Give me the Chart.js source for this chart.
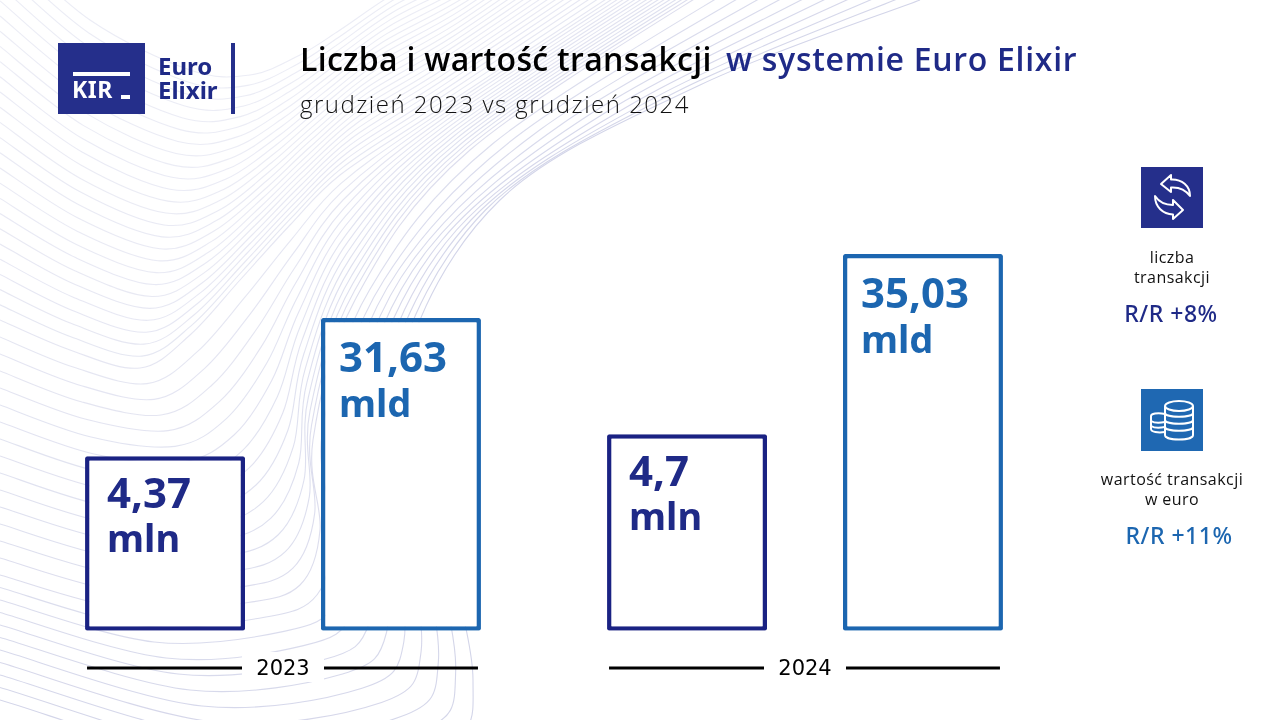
<!DOCTYPE html>
<html lang="pl">
<head>
<meta charset="utf-8">
<title>Liczba i wartość transakcji w systemie Euro Elixir</title>
<script src="https://cdn.jsdelivr.net/npm/chart.js@4"></script>
<style>
  html, body { margin: 0; padding: 0; background: #fff; }
  #page { position: relative; width: 1280px; height: 720px; overflow: hidden; font-family: "Open Sans", sans-serif; }
  #waves, #chartBox, .abs { position: absolute; }
  #waves { left: 0; top: 0; }
  #chartBox { left: 0; top: 0; width: 1280px; height: 720px; }
  .navy { color: #1f2a87; }
  .blue { color: #1c66b0; }
  .side { width: 200px; text-align: center; font-size: 16px; line-height: 20px; font-weight: 400; color: #111; letter-spacing: .45px; }
  .rr { width: 200px; text-align: center; font-size: 23px; line-height: 28px; font-weight: 500; letter-spacing: .5px; font-family: "Noto Sans", sans-serif; }
</style>
</head>
<body>
<div id="page">
  <svg id="waves" width="1280" height="720"></svg>
  <div id="chartBox"><canvas id="chart"></canvas></div>

  <div class="abs" style="left:58px;top:43px;width:87px;height:71px;background:#252f8b"></div>
  <div class="abs" style="left:73px;top:72px;width:57px;height:4px;background:#fff"></div>
  <div class="abs" style="left:72px;top:74px;font:700 23px/30px 'Noto Sans',sans-serif;color:#fff;letter-spacing:.5px">KIR</div>
  <div class="abs" style="left:121px;top:95px;width:9px;height:4px;background:#fff"></div>
  <div class="abs navy" style="left:158px;top:54px;font:700 24px/24px 'Noto Sans',sans-serif">Euro<br>Elixir</div>
  <div class="abs" style="left:231px;top:43px;width:4px;height:71px;background:#252f8b"></div>

  <div class="abs" style="left:300px;top:36px;font-size:32px;line-height:46px;font-weight:600;color:#000;letter-spacing:.3px;white-space:nowrap">Liczba i wartość transakcji</div>
  <div class="abs navy" style="left:726px;top:36px;font-size:32px;line-height:46px;font-weight:600;letter-spacing:.7px;white-space:nowrap">w systemie Euro Elixir</div>
  <div class="abs" style="left:300px;top:87px;font-size:24px;line-height:34px;font-weight:300;color:#111;letter-spacing:1.5px;white-space:nowrap">grudzień 2023 vs grudzień 2024</div>

  <svg class="abs" style="left:1141px;top:167px" width="62" height="61" viewBox="0 0 62 61">
    <rect width="62" height="61" fill="#252f8b"/>
    <path d="M20 17 L30 8 L30 12.5 C41 12 49 19 49 29 C44 22 38 20 30 20.5 L30 25 Z" fill="none" stroke="#fff" stroke-width="2" stroke-linejoin="round"/>
    <path d="M42 43 L32 33 L32 38 C24 38 18 35 14 29 C14 40 22 47 32 47.5 L32 52 Z" fill="none" stroke="#fff" stroke-width="2" stroke-linejoin="round"/>
  </svg>
  <div class="abs side" style="left:1072px;top:247px">liczba<br>transakcji</div>
  <div class="abs rr navy" style="left:1071px;top:299px">R/R +8%</div>

  <svg class="abs" style="left:1141px;top:389px" width="62" height="62" viewBox="0 0 62 62">
    <rect width="62" height="62" fill="#1f68b2"/>
    <g fill="none" stroke="#fff" stroke-width="2">
      <path d="M24 25 C16 23 10 25 10 27 V40 C10 43 17 44 24 43"/>
      <path d="M10 32 C13 34 19 34 24 33 M10 37 C13 39 19 39 24 38"/>
      <ellipse cx="38" cy="17" rx="14" ry="5"/>
      <path d="M24 17 V46 C24 52 52 52 52 46 V17"/>
      <path d="M24 24 C24 29 52 29 52 24 M24 31 C24 36 52 36 52 31 M24 38 C24 43 52 43 52 38"/>
    </g>
  </svg>
  <div class="abs side" style="left:1072px;top:469px">wartość transakcji<br>w euro</div>
  <div class="abs rr blue" style="left:1079px;top:521px">R/R +11%</div>
</div>

<script>
// dane
const years = ["2023", "2024"];
const countValues = [4.37, 4.7];     // mln
const amountValues = [31.63, 35.03]; // mld
const countUnit = "mln";
const amountUnit = "mld";

const NAVY = "#1a2283";
const BLUE = "#1c66b0";
const COUNT_MIN = 1.76;
const AMOUNT_MIN = 15.03;

// tlo - falujace linie, tylko dekoracja (klucze: krzywe sterujace dla t = 0, .5, .8, 1)
const waveKeys = [
  { t: 0,  p: [[0,-60],[90,20],[190,70],[250,75],[300,55],[340,30],[400,-10],[480,-50],[560,-110]] },
  { t: .5, p: [[0,320],[70,350],[140,368],[190,335],[240,280],[290,225],[340,175],[430,115],[620,-10]] },
  { t: .8, p: [[0,575],[130,610],[245,603],[300,585],[320,530],[313,440],[355,300],[470,150],[740,-30]] },
  { t: 1,  p: [[0,700],[250,770],[440,745],[473,680],[440,520],[405,370],[500,200],[700,85],[920,0]] }
];

function drawWaves() {
  const svg = document.getElementById("waves");
  const count = 50;
  let html = "";
  for (let i = 0; i <= count; i++) {
    const t = i / count;
    let k = 0;
    while (k < waveKeys.length - 2 && t > waveKeys[k + 1].t) k++;
    const a = waveKeys[k], b = waveKeys[k + 1];
    const f = (t - a.t) / (b.t - a.t);
    const pts = a.p.map((q, j) => [q[0] + (b.p[j][0] - q[0]) * f, q[1] + (b.p[j][1] - q[1]) * f]);
    let d = "M" + pts[0][0] + " " + pts[0][1];
    for (let j = 0; j < pts.length - 1; j++) {
      const p0 = pts[Math.max(j - 1, 0)], p1 = pts[j], p2 = pts[j + 1], p3 = pts[Math.min(j + 2, pts.length - 1)];
      d += " C" + (p1[0] + (p2[0] - p0[0]) / 6) + " " + (p1[1] + (p2[1] - p0[1]) / 6) + " " +
        (p2[0] - (p3[0] - p1[0]) / 6) + " " + (p2[1] - (p3[1] - p1[1]) / 6) + " " + p2[0] + " " + p2[1];
    }
    const o = (0.45 + 0.55 * t * t).toFixed(2);
    html += '<path d="' + d + '" fill="none" stroke="#d3d5e9" stroke-width="1.1" opacity="' + o + '"/>';
  }
  svg.innerHTML = html;
}
drawWaves();

// etykiety w slupkach i linie obok lat
const annotate = {
  id: "annotate",
  beforeDraw(chart) {
    const ctx = chart.ctx;
    ctx.save();
    ctx.fillStyle = "#fff";
    years.forEach((y, i) => {
      const cx = chart.scales.x.getPixelForTick(i);
      ctx.fillRect(cx - 41, 652, 82, 30);
    });
    ctx.restore();
  },
  afterDatasetsDraw(chart) {
    const ctx = chart.ctx;
    ctx.save();
    chart.data.datasets.forEach((ds, di) => {
      chart.getDatasetMeta(di).data.forEach((bar, i) => {
        const left = bar.x - bar.width / 2;
        const top = Math.min(bar.y, bar.base);
        const off = di === 0 ? 22 : 18;
        const lift = di === 0 ? 0 : 2;
        ctx.fillStyle = di === 0 ? "#1f2a87" : BLUE;
        ctx.textAlign = "left";
        ctx.textBaseline = "alphabetic";
        ctx.font = "700 42px 'Noto Sans', sans-serif";
        ctx.fillText(String(ds.data[i]).replace(".", ","), left + off, top + 52 + lift);
        ctx.font = "700 38px 'Noto Sans', sans-serif";
        ctx.fillText(ds.unit, left + off, top + 96 + lift * 1.5);
      });
    });
    // linie po obu stronach roku
    ctx.strokeStyle = "#000";
    ctx.lineWidth = 3;
    years.forEach((y, i) => {
      const a = chart.getDatasetMeta(0).data[i], b = chart.getDatasetMeta(1).data[i];
      const cx = chart.scales.x.getPixelForTick(i);
      const yy = 668;
      ctx.beginPath();
      ctx.moveTo(a.x - a.width / 2 + 2, yy); ctx.lineTo(cx - 41, yy);
      ctx.moveTo(cx + 41, yy); ctx.lineTo(b.x + b.width / 2 - 3, yy);
      ctx.stroke();
    });
    ctx.restore();
  }
};

new Chart(document.getElementById("chart"), {
  type: "bar",
  data: {
    labels: years,
    datasets: [
      {
        label: "liczba transakcji",
        unit: countUnit,
        data: countValues,
        base: COUNT_MIN,
        yAxisID: "yCount",
        backgroundColor: "#fff",
        borderColor: NAVY,
        borderWidth: 4.5,
        borderRadius: 2,
        borderSkipped: false,
        categoryPercentage: 0.904,
        barPercentage: 0.678
      },
      {
        label: "wartość transakcji w euro",
        unit: amountUnit,
        data: amountValues,
        base: AMOUNT_MIN,
        yAxisID: "yAmount",
        backgroundColor: "#fff",
        borderColor: BLUE,
        borderWidth: 4.5,
        borderRadius: 2,
        borderSkipped: false,
        categoryPercentage: 0.904,
        barPercentage: 0.678
      }
    ]
  },
  options: {
    responsive: true,
    maintainAspectRatio: false,
    animation: false,
    layout: { padding: { left: 22, right: 214, top: 200, bottom: 12 } },
    plugins: { legend: { display: false }, tooltip: { enabled: false } },
    scales: {
      x: {
        grid: { display: false, drawTicks: false },
        border: { display: false },
        ticks: { color: "#000", font: { family: "'DejaVu Sans', sans-serif", size: 21 }, padding: 26, maxRotation: 0 }
      },
      // osie ukryte, w oryginale slupki nie startuja od zera
      yCount: { display: false, min: COUNT_MIN, max: 8.2 },
      yAmount: { display: false, min: AMOUNT_MIN, max: 37.9 }
    }
  },
  plugins: [annotate]
});
</script>
</body>
</html>
